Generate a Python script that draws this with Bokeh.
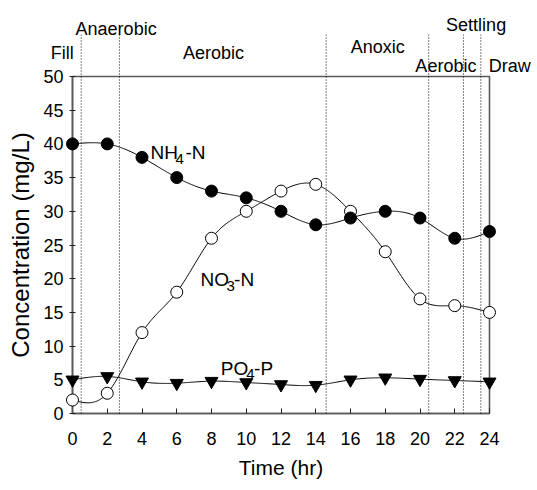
import numpy as np
from bokeh.plotting import figure
from bokeh.models import Range1d, FixedTicker
from bokeh.core.properties import value
from bokeh.embed import file_html
from bokeh.resources import INLINE

# ---- data ----
time_hr = [0, 2, 4, 6, 8, 10, 12, 14, 16, 18, 20, 22, 24]
nh4_n = [40, 40, 38, 35, 33, 32, 30, 28, 29, 30, 29, 26, 27]
no3_n = [2, 3, 12, 18, 26, 30, 33, 34, 30, 24, 17, 16, 15]
po4_p = [5.0, 5.5, 4.7, 4.5, 4.8, 4.6, 4.3, 4.2, 5.0, 5.3, 5.1, 4.9, 4.7]
phase_bounds = [0.5, 2.7, 14.6, 20.5, 22.5, 23.5]
phase_names = ["Fill", "Anaerobic", "Aerobic", "Anoxic", "Aerobic", "Settling", "Draw"]
x_ticks = list(range(0, 25, 2))
y_ticks = list(range(0, 51, 5))

FONT = "Liberation Sans"


def natural_spline(x, y, n=400):
    x = np.asarray(x, float)
    y = np.asarray(y, float)
    m = len(x)
    h = np.diff(x)
    A = np.zeros((m, m))
    r = np.zeros(m)
    A[0, 0] = A[-1, -1] = 1.0
    for i in range(1, m - 1):
        A[i, i - 1] = h[i - 1]
        A[i, i] = 2 * (h[i - 1] + h[i])
        A[i, i + 1] = h[i]
        r[i] = 3 * ((y[i + 1] - y[i]) / h[i] - (y[i] - y[i - 1]) / h[i - 1])
    c = np.linalg.solve(A, r)
    b = (y[1:] - y[:-1]) / h - h * (2 * c[:-1] + c[1:]) / 3
    d = (c[1:] - c[:-1]) / (3 * h)
    xs = np.linspace(x[0], x[-1], n)
    idx = np.clip(np.searchsorted(x, xs, side="right") - 1, 0, m - 2)
    dx = xs - x[idx]
    ys = y[idx] + b[idx] * dx + c[idx] * dx ** 2 + d[idx] * dx ** 3
    return xs, ys


p = figure(frame_width=417, frame_height=337,
           x_range=Range1d(0, 24), y_range=Range1d(0, 50),
           output_backend="svg", toolbar_location=None,
           min_border_left=72, min_border_right=48, min_border_top=76, min_border_bottom=77)

p.grid.visible = False
p.outline_line_color = "#5a5a5a"
p.outline_line_width = 1.6
p.background_fill_color = "white"
p.border_fill_color = "white"

p.xaxis.ticker = FixedTicker(ticks=x_ticks)
p.yaxis.ticker = FixedTicker(ticks=y_ticks)
for ax in (p.xaxis, p.yaxis):
    ax.minor_tick_line_color = None
    ax.axis_line_color = "#5a5a5a"
    ax.axis_line_width = 1.6
    ax.major_tick_line_color = "#222222"
    ax.major_label_text_font = FONT
    ax.major_label_text_font_size = "18px"
    ax.major_label_text_color = "black"
    ax.axis_label_text_font = FONT
    ax.axis_label_text_font_style = "normal"
    ax.axis_label_text_color = "black"

p.xaxis.major_tick_in = 5
p.xaxis.major_tick_out = 0
p.xaxis.major_label_standoff = 18
p.xaxis.axis_label = "Time (hr)"
p.xaxis.axis_label_text_font_size = "21px"
p.xaxis.axis_label_standoff = 8

p.yaxis.major_tick_in = 3
p.yaxis.major_tick_out = 3
p.yaxis.major_label_standoff = 6
p.yaxis.axis_label = "Concentration (mg/L)"
p.yaxis.axis_label_text_font_size = "24px"
p.yaxis.axis_label_standoff = 6

# phase boundaries (dotted, extending above the frame)
top_y = 56.2
p.segment(x0=phase_bounds, y0=[0] * len(phase_bounds), x1=phase_bounds, y1=[top_y] * len(phase_bounds),
          line_color="black", line_width=1, line_dash="1 2", level="overlay")

# phase names
phase_x = [-0.59, 2.51, 8.12, 17.57, 21.49, 23.23, 25.17]
phase_y = [53.46, 57.08, 53.46, 54.35, 51.53, 57.57, 51.53]
p.text(x=phase_x, y=phase_y, text=phase_names, text_font=value(FONT), text_font_size="18px",
       text_align="center", text_baseline="alphabetic", text_color="black", level="overlay")

# smooth curves
for ys in (nh4_n, no3_n, po4_p):
    sx, sy = natural_spline(time_hr, ys)
    p.line(sx, sy, line_color="black", line_width=1)

# markers
p.scatter(time_hr, po4_p, marker="inverted_triangle", size=13, fill_color="black",
          line_color="black", level="overlay")
p.scatter(time_hr, no3_n, marker="circle", size=12, fill_color="white",
          line_color="black", line_width=1, level="overlay")
p.scatter(time_hr, nh4_n, marker="circle", size=12, fill_color="black",
          line_color="black", level="overlay")

# species labels with subscripts
main_x = [4.49, 6.50, 7.37, 9.30, 8.53, 10.45]
main_y = [38.77, 38.77, 19.84, 19.84, 6.63, 6.63]
main_t = ["NH", "-N", "NO", "-N", "PO", "-P"]
p.text(x=main_x, y=main_y, text=main_t, text_font=value(FONT), text_font_size="19px",
       text_align="left", text_baseline="alphabetic", text_color="black", level="overlay")
sub_x = [5.93, 8.87, 10.0]
sub_y = [37.83, 18.99, 5.89]
sub_t = ["4", "3", "4"]
p.text(x=sub_x, y=sub_y, text=sub_t, text_font=value(FONT), text_font_size="15px",
       text_align="left", text_baseline="alphabetic", text_color="black", level="overlay")

open("out.html", "w").write(file_html(p, INLINE))
